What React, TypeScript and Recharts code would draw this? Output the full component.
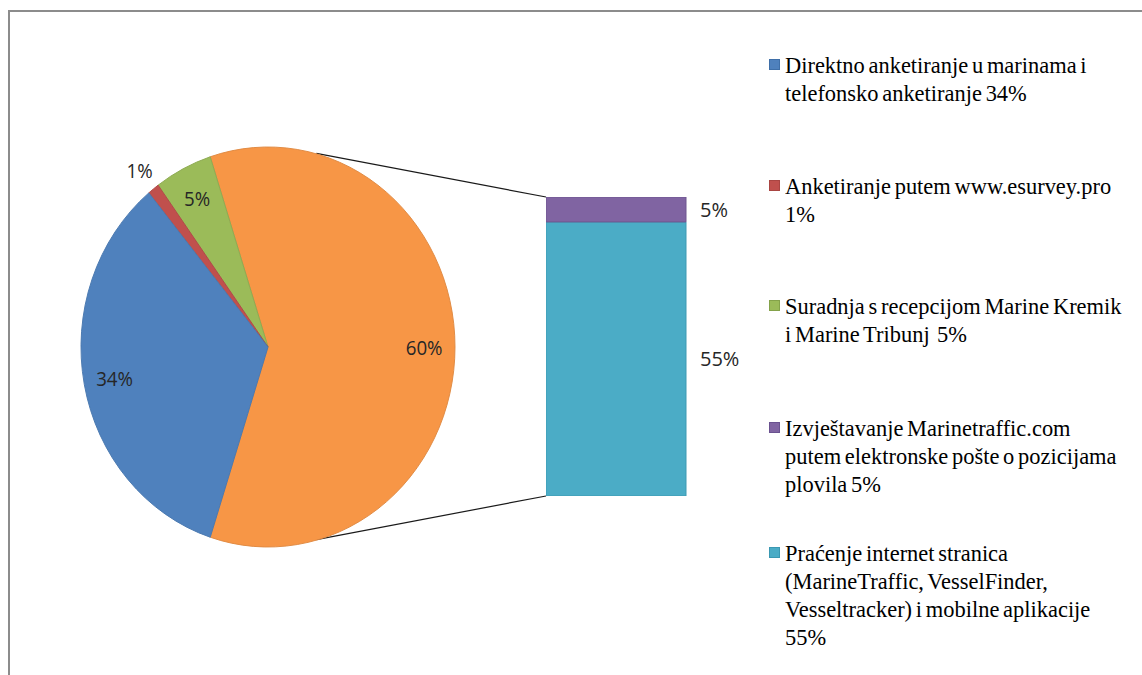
import React from 'react';
import { PieChart, Pie, Cell, BarChart, Bar, XAxis, YAxis, LabelList } from 'recharts';

// ---- data ----
const pieNames = [
  'Ostalo (praćenje i izvještavanje)',
  'Suradnja s recepcijom Marine Kremik i Marine Tribunj',
  'Anketiranje putem www.esurvey.pro',
  'Direktno anketiranje u marinama i telefonsko anketiranje',
];
const pieValues = [60, 5, 1, 34];
const pieColors = ['#F79646', '#9BBB59', '#C0504D', '#4F81BD'];
const pieStrokes = ['#E08A42', '#8DAA52', '#B04A47', '#4A78AF'];

const barNames = ['Praćenje internet stranica', 'Izvještavanje Marinetraffic.com'];
const barValues = [55, 5];
const barColors = ['#4BACC6', '#8064A2'];
const barStrokes = ['#3F9AB3', '#6F5690'];

const legendLabels = [
  'Direktno anketiranje u marinama i\ntelefonsko anketiranje 34%',
  'Anketiranje putem www.esurvey.pro\n1%',
  'Suradnja s recepcijom Marine Kremik\ni Marine Tribunj  5%',
  'Izvještavanje Marinetraffic.com\nputem elektronske pošte o pozicijama\nplovila 5%',
  'Praćenje internet stranica\n(MarineTraffic, VesselFinder,\nVesseltracker) i mobilne aplikacije\n55%',
];
const legendColors = ['#4F81BD', '#C0504D', '#9BBB59', '#8064A2', '#4BACC6'];
const legendBorders = ['#3F6FA8', '#A94542', '#84A24A', '#6A5290', '#3A98B2'];

// ---- layout ----
const PIE_CX = 268;
const PIE_CY = 346.5;
const PIE_R = 200;
const PIE_SX = 0.935;
const PIE_BOX = 480;
const BAR_LEFT = 546;
const BAR_TOP = 197;
const BAR_W = 140;
const BAR_H = 299;
const CONNECT_ANGLE = 75;
const legendTops = [51, 172, 292, 414, 539];

const pieData = pieNames.map((name, i) => ({ name, value: pieValues[i] }));
const barRow: Record<string, any> = { name: 'Ostalo' };
barNames.forEach((n, i) => { barRow['s' + i] = barValues[i]; });
const barData = [barRow];

const RAD = Math.PI / 180;

const renderPieLabel = (p: any) => {
  const { cx, cy, midAngle, outerRadius, value } = p;
  const r = value < 2 ? outerRadius * 1.12 : outerRadius * 0.835;
  const x = cx + r * Math.cos(-midAngle * RAD);
  const y = cy + r * Math.sin(-midAngle * RAD);
  return (
    <text x={x} y={y} textAnchor="middle" dominantBaseline="central"
      fontFamily="'Open Sans', sans-serif" fontSize={20} fill="#262626">
      {value + '%'}
    </text>
  );
};

export default function App() {
  const topPt = {
    x: PIE_CX + PIE_R * PIE_SX * Math.cos(CONNECT_ANGLE * RAD),
    y: PIE_CY - PIE_R * Math.sin(CONNECT_ANGLE * RAD),
  };
  const botPt = {
    x: PIE_CX + PIE_R * PIE_SX * Math.cos(CONNECT_ANGLE * RAD),
    y: PIE_CY + PIE_R * Math.sin(CONNECT_ANGLE * RAD),
  };
  return (
    <div style={{ position: 'absolute', left: 0, top: 0, width: 1142, height: 675, background: '#fff', overflow: 'hidden' }}>
      <div style={{ position: 'absolute', left: 8, top: 10, width: 1200, height: 700, borderTop: '2px solid #8c8c8c', borderLeft: '2px solid #8c8c8c' }} />
      <svg style={{ position: 'absolute', left: 0, top: 0 }} width={1142} height={675}>
        <line x1={topPt.x} y1={topPt.y} x2={BAR_LEFT} y2={BAR_TOP} stroke="#1a1a1a" strokeWidth={1.2} />
        <line x1={botPt.x} y1={botPt.y} x2={BAR_LEFT} y2={BAR_TOP + BAR_H} stroke="#1a1a1a" strokeWidth={1.2} />
      </svg>
      <div style={{
        position: 'absolute', left: PIE_CX - PIE_BOX / 2, top: PIE_CY - PIE_BOX / 2,
        width: PIE_BOX, height: PIE_BOX, transform: `scaleX(${PIE_SX})`, transformOrigin: '50% 50%',
      }}>
        <PieChart width={PIE_BOX} height={PIE_BOX} margin={{ top: 0, right: 0, bottom: 0, left: 0 }}>
          <Pie data={pieData} dataKey="value" nameKey="name" cx={PIE_BOX / 2} cy={PIE_BOX / 2}
            outerRadius={PIE_R} startAngle={-108} endAngle={252} isAnimationActive={false}
            label={renderPieLabel} labelLine={false}>
            {pieData.map((d, i) => (
              <Cell key={d.name} fill={pieColors[i]} stroke={pieStrokes[i]} strokeWidth={1} />
            ))}
          </Pie>
        </PieChart>
      </div>
      <div style={{ position: 'absolute', left: BAR_LEFT, top: BAR_TOP }}>
        <BarChart width={BAR_W + 100} height={BAR_H} data={barData}
          margin={{ top: 0, right: 100, bottom: 0, left: 0 }} barCategoryGap={0}>
          <XAxis dataKey="name" type="category" hide />
          <YAxis type="number" domain={[0, 60]} hide />
          {barNames.map((n, i) => (
            <Bar key={n} dataKey={'s' + i} name={n} stackId="a" fill={barColors[i]}
              stroke={barStrokes[i]} strokeWidth={1} isAnimationActive={false}>
              <LabelList dataKey={'s' + i} position="right" offset={14}
                formatter={(v: any) => v + '%'}
                style={{ fontFamily: "'Open Sans', sans-serif", fontSize: 20, fill: '#262626' }} />
            </Bar>
          ))}
        </BarChart>
      </div>
      {legendLabels.map((label, i) => (
        <div key={i} style={{ position: 'absolute', left: 769, top: legendTops[i], width: 380 }}>
          <div style={{
            position: 'absolute', left: 0, top: 8, width: 9, height: 9,
            background: legendColors[i], border: `1px solid ${legendBorders[i]}`,
          }} />
          <div style={{
            position: 'absolute', left: 16, top: 0, whiteSpace: 'pre', lineHeight: '28px',
            fontFamily: "'Liberation Serif', 'Times New Roman', serif", fontSize: 24, color: '#000',
            transform: 'scaleX(0.935)', transformOrigin: '0 0', wordSpacing: -2,
          }}>{label}</div>
        </div>
      ))}
    </div>
  );
}
